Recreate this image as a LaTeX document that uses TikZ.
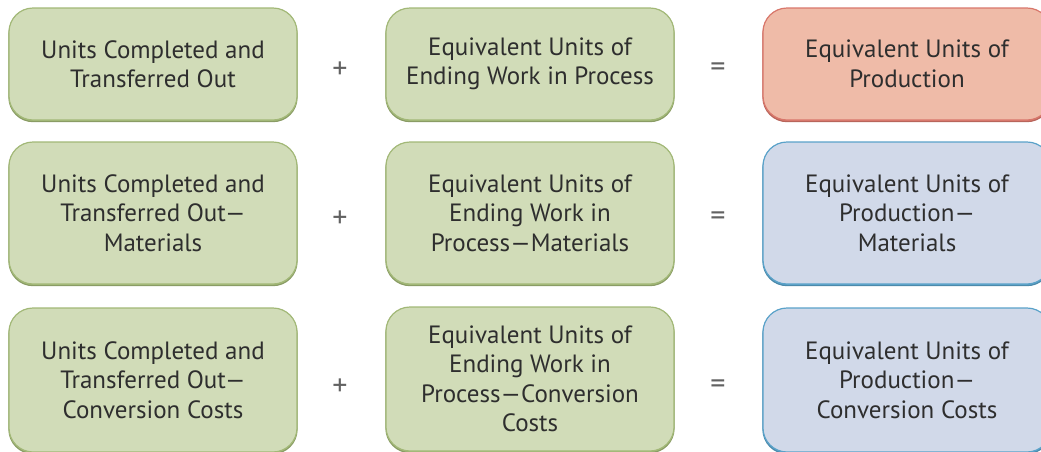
\documentclass[tikz,border=0pt]{standalone}
\usepackage{fontspec}
\setmainfont{PT Sans}
\definecolor{greenfill}{HTML}{D1DCB8}
\definecolor{greenline}{HTML}{A2B877}
\definecolor{redfill}{HTML}{EFBBA8}
\definecolor{redline}{HTML}{D8776B}
\definecolor{bluefill}{HTML}{D1D9E9}
\definecolor{blueline}{HTML}{5AA2C9}
\definecolor{txt}{HTML}{2E2E2E}
\begin{document}
\begin{tikzpicture}[x=1pt,y=-1pt,
  box/.style={rounded corners=24pt, line width=1.2pt, minimum width=288pt,
    align=center, text=txt, inner sep=0pt,
    font=\fontsize{25}{29.5}\selectfont,
    preaction={draw=#1line!85!black, fill=#1line, rounded corners=24pt,
      transform canvas={yshift=-1.6pt}},
    fill=#1fill, draw=#1line},
  op/.style={text=txt!75, inner sep=0pt, font=\fontsize{30}{30}\selectfont}]
\useasboundingbox (0,0) rectangle (1041,451);
\clip (0,0) rectangle (1041,451);
% row 1
\node[box=green, minimum height=112pt] (a1) at (153,64) {Units Completed and\\Transferred Out};
\node[box=green, minimum height=112pt] (b1) at (530,64) {Equivalent Units of\\Ending Work in Process};
\node[box=red, minimum height=112pt] (c1) at (907,64) {Equivalent Units of\\Production};
\node[op] (p1) at (340,70) {+};
\node[op] (e1) at (718,70) {=};
% row 2
\node[box=green, minimum height=142pt] (a2) at (153,213) {Units Completed and\\Transferred Out---\\Materials};
\node[box=green, minimum height=142pt] (b2) at (530,213) {Equivalent Units of\\Ending Work in\\Process---Materials};
\node[box=blue, minimum height=142pt] (c2) at (907,213) {Equivalent Units of\\Production---\\Materials};
\node[op] (p2) at (340,219) {+};
\node[op] (e2) at (718,219) {=};
% row 3
\node[box=green, minimum height=144pt] (a3) at (153,380) {Units Completed and\\Transferred Out---\\Conversion Costs};
\node[box=green, minimum height=144pt] (b3) at (530,379) {Equivalent Units of\\Ending Work in\\Process---Conversion\\Costs};
\node[box=blue, minimum height=144pt] (c3) at (907,380) {Equivalent Units of\\Production---\\Conversion Costs};
\node[op] (p3) at (340,387) {+};
\node[op] (e3) at (718,387) {=};
\end{tikzpicture}
\end{document}
